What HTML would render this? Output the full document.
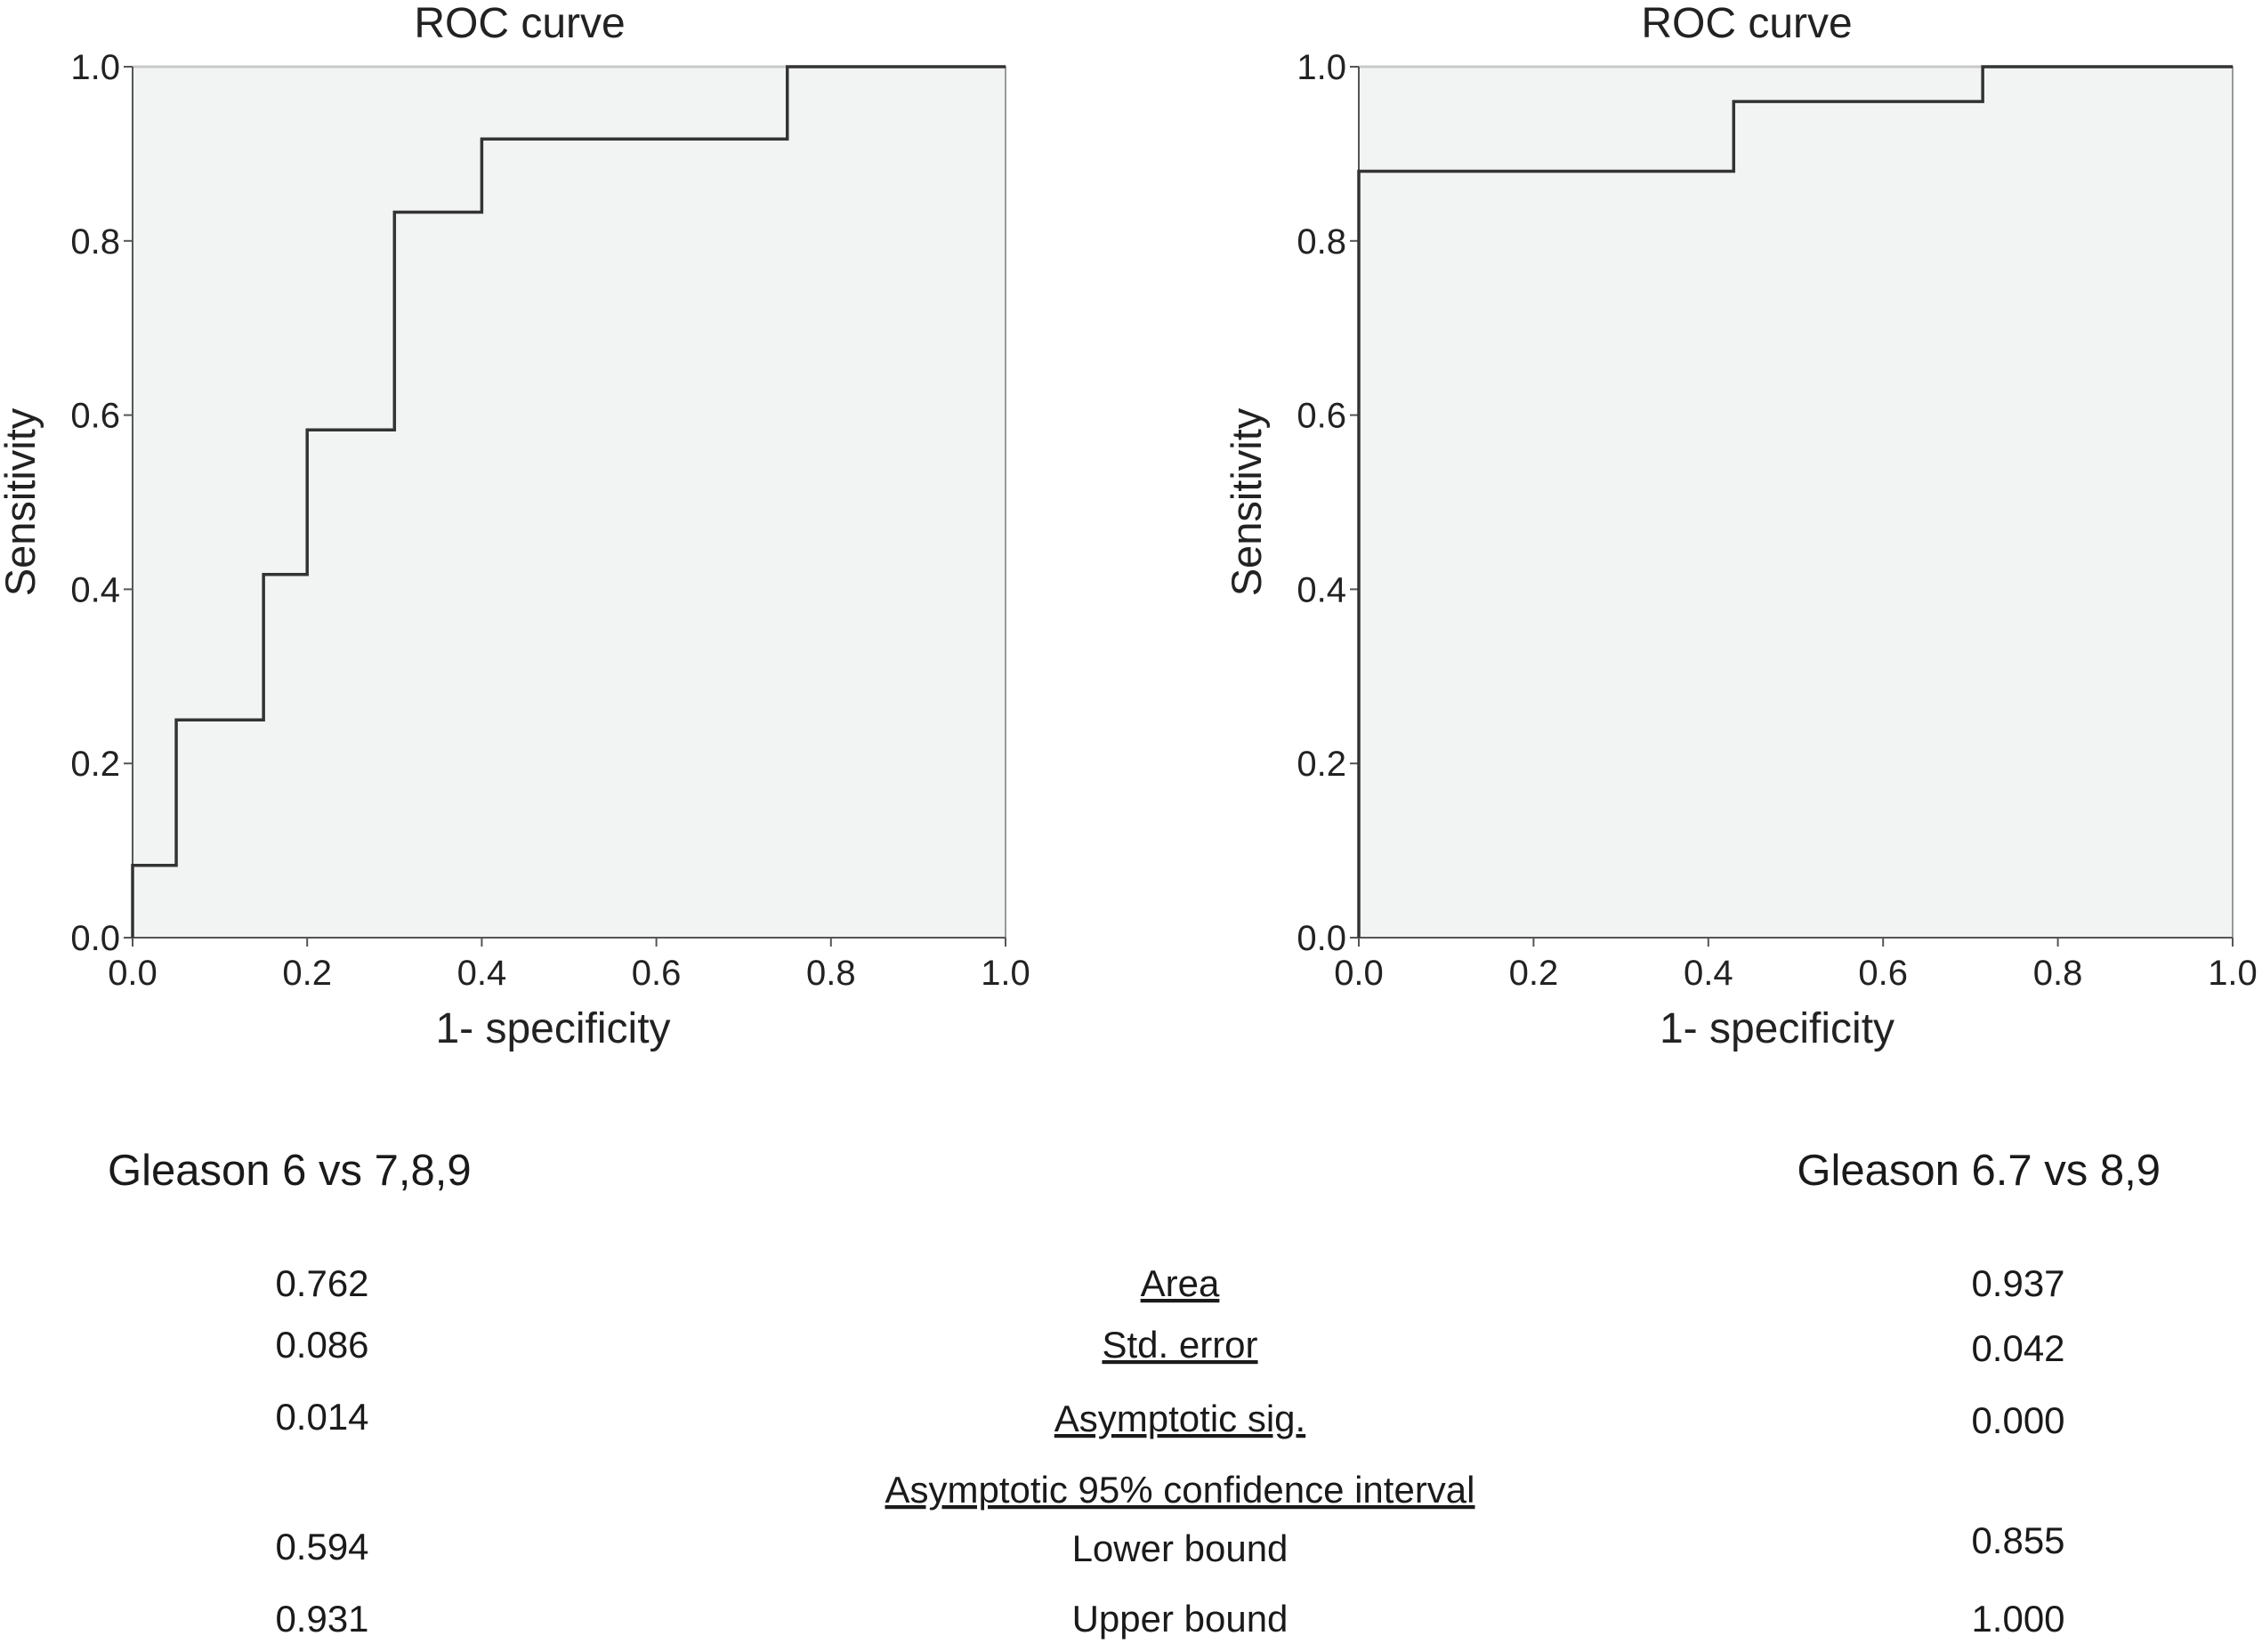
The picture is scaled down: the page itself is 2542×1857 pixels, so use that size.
<!DOCTYPE html>
<html><head><meta charset="utf-8"><style>
body{margin:0;background:#fff;}
svg{display:block;font-family:"Liberation Sans",Arial,sans-serif;}
</style></head><body>
<svg id="root" width="2542" height="1857" viewBox="0 0 2542 1857">
<g id="charts"></g>
<g font-size="42" fill="#1a1a1a">
<text x="121" y="1332" font-size="49">Gleason 6 vs 7,8,9</text>
<text x="2428" y="1332" font-size="49" text-anchor="end">Gleason 6.7 vs 8,9</text>
<g text-anchor="middle">
<text x="362" y="1457">0.762</text>
<text x="362" y="1526">0.086</text>
<text x="362" y="1607">0.014</text>
<text x="362" y="1753">0.594</text>
<text x="362" y="1834">0.931</text>
<text x="1326" y="1457" text-decoration="underline">Area</text>
<text x="1326" y="1526" text-decoration="underline">Std. error</text>
<text x="1326" y="1609" text-decoration="underline">Asymptotic sig.</text>
<text x="1326" y="1689" text-decoration="underline">Asymptotic 95% confidence interval</text>
<text x="1326" y="1755">Lower bound</text>
<text x="1326" y="1834">Upper bound</text>
<text x="2268" y="1457">0.937</text>
<text x="2268" y="1530">0.042</text>
<text x="2268" y="1611">0.000</text>
<text x="2268" y="1746">0.855</text>
<text x="2268" y="1834">1.000</text>
</g></g>
</svg>
<script>
const leftFpr=[0,0,0.05,0.05,0.15,0.15,0.2,0.2,0.3,0.3,0.4,0.4,0.75,0.75,1];
const leftTpr=[0,0.083,0.083,0.25,0.25,0.417,0.417,0.583,0.583,0.833,0.833,0.917,0.917,1,1];
const rightFpr=[0,0,0.429,0.429,0.714,0.714,1];
const rightTpr=[0,0.88,0.88,0.96,0.96,1,1];
const tickVals=[0,0.2,0.4,0.6,0.8,1.0];
const tickLabels=["0.0","0.2","0.4","0.6","0.8","1.0"];
const NS="http://www.w3.org/2000/svg";
const g=document.getElementById('charts');
function mk(tag,attrs,parent){const e=document.createElementNS(NS,tag);for(const k in attrs)e.setAttribute(k,attrs[k]);(parent||g).appendChild(e);return e;}
function chart(x0,x1,y0,y1,fpr,tpr,side,titleX){
  const sx=v=>x0+v*(x1-x0), sy=v=>y1-v*(y1-y0);
  const grp=mk('g',{});
  
  
  const bg=mk('rect',{x:x0,y:y0,width:x1-x0,height:y1-y0,fill:'#f2f3f3',stroke:'#9a9a9a','stroke-width':2},grp);
  
  
  mk('line',{x1:x0,y1:y0,x2:x1,y2:y0,stroke:'#c8c8c8','stroke-width':3},grp);
  mk('line',{x1:x0,y1:y0,x2:x0,y2:y1,stroke:'#555','stroke-width':2},grp);
  mk('line',{x1:x0,y1:y1,x2:x1,y2:y1,stroke:'#555','stroke-width':2},grp);
  tickVals.forEach((v,i)=>{
    mk('line',{x1:sx(v),y1:y1,x2:sx(v),y2:y1+10,stroke:'#555','stroke-width':2},grp);
    const tx=mk('text',{x:sx(v),y:y1+53,'text-anchor':'middle','font-size':40,fill:'#222'},grp);
    tx.textContent=tickLabels[i];
    
    
    mk('line',{x1:x0-10,y1:sy(v),x2:x0,y2:sy(v),stroke:'#555','stroke-width':2},grp);
    const ty=mk('text',{x:x0-14,y:sy(v)+14,'text-anchor':'end','font-size':40,fill:'#222'},grp);
    ty.textContent=tickLabels[i];
    
    
  });
  const pts=fpr.map((v,i)=>sx(v)+','+sy(tpr[i])).join(' ');
  const line=mk('polyline',{points:pts,fill:'none',stroke:'#333','stroke-width':3.5},grp);
  
  
  const t=mk('text',{x:titleX,y:42,'text-anchor':'middle','font-size':48,fill:'#222'},grp);
  t.textContent='ROC curve';
  
  
  const xt=mk('text',{x:(x0+x1)/2+(side==='left'?-18:-21),y:1172,'text-anchor':'middle','font-size':48,fill:'#222'},grp);
  xt.textContent='1- specificity';
  
  
  const yx=x0-110, yy=(y0+y1)/2;
  const yt=mk('text',{x:yx,y:yy,'text-anchor':'middle','font-size':47,fill:'#222',transform:'rotate(-90 '+yx+' '+yy+')'},grp);
  yt.textContent='Sensitivity';
  
  
}
chart(149,1130,75,1054,leftFpr,leftTpr,'left',584);
chart(1527,2509,75,1054,rightFpr,rightTpr,'right',1963);
</script>
</body></html>
